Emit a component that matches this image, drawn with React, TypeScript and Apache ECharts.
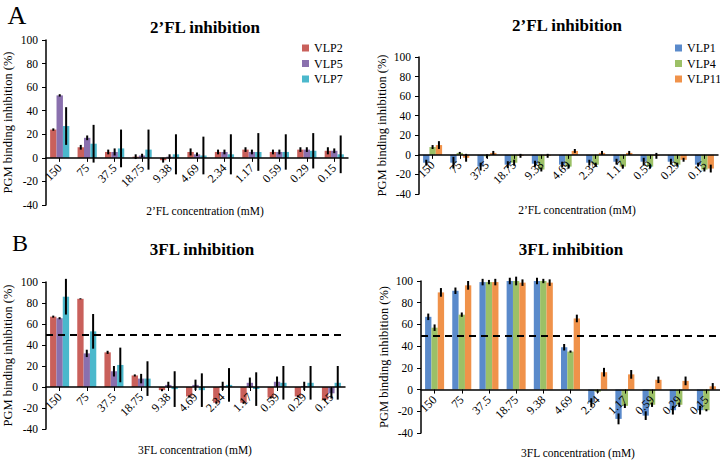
import React, { useEffect, useRef } from 'react';
import * as echarts from 'echarts';

const categories = ['150', '75', '37.5', '18.75', '9.38', '4.69', '2.34', '1.17', '0.59', '0.29', '0.15'];
const yTickMin = -40;
const yTickMax = 100;
const yTickStep = 20;

// Panel A left: 2'FL, VLP2 / VLP5 / VLP7
const a2flVlp2 = [24, 9, 5, 1, -2, 5, 5, 7, 5, 7, 6];
const a2flVlp2Err = [1, 2, 2, 2, 2, 3, 2, 2, 2, 2, 3];
const a2flVlp5 = [53, 17, 5, 2, 1, 3, 5, 5, 5, 7, 6];
const a2flVlp5Err = [1, 2, 3, 1.5, 2, 1.5, 2, 2, 2, 2, 2];
const a2flVlp7 = [27, 12, 8, 7, 3, 2, 3, 5, 5, 6, 3];
const a2flVlp7Err = [16, 16, 16, 17, 17, 16, 17, 16, 15, 15, 16];

// Panel A right: 2'FL, VLP1 / VLP4 / VLP11
const b2flVlp1 = [-8, -8, -12, -10, -9, -10, -8, -7, -7, -7, -10];
const b2flVlp1Err = [3, 6, 4, 3.5, 3, 3, 3, 3, 4, 3, 2];
const b2flVlp4 = [8, 2, -1.5, -8, -15, -12, -10, -12, -12, -10, -15];
const b2flVlp4Err = [2, 1, 2, 3, 2, 2, 2, 2, 2, 2, 2];
const b2flVlp11 = [10, -3, 2, -1, -1, 4, 2, 2, -1, -5, -14];
const b2flVlp11Err = [4, 4, 2, 2, 2, 2, 2, 2, 3, 2, 4];

// Panel B left: 3FL, VLP2 / VLP5 / VLP7
const a3flVlp2 = [67, 84, 33, 11, -3, -9, -15, -15, -10, -9, -12];
const a3flVlp2Err = [1, 0.5, 1.5, 1, 1, 1, 1, 1, 1, 1, 1];
const a3flVlp5 = [65.5, 32, 15, 8, 2, 2, 1, 4, 5, 1, -6];
const a3flVlp5Err = [1, 3.5, 5, 4.5, 3, 5, 4, 5, 5, 4, 5];
const a3flVlp7 = [86, 53, 21, 8, -2, -3, 2, -2, 4, 4, 4];
const a3flVlp7Err = [17, 16.5, 16.5, 16.5, 17, 16, 16, 16, 16, 16, 16];

// Panel B right: 3FL, VLP1 / VLP4 / VLP11
const b3flVlp1 = [67, 91, 99, 100, 100, 39, -12, -27, -24, -19, -19];
const b3flVlp1Err = [3, 3, 3, 3, 3, 3, 4, 5, 4, 4, 4];
const b3flVlp4 = [57, 69, 99, 100, 100, 35, -2, -15, -14, -14, -19];
const b3flVlp4Err = [3, 2, 2, 4, 2, 1, 1, 2, 2, 2, 1];
const b3flVlp11 = [89.5, 96, 99, 98.5, 98.5, 65.5, 16, 14, 9, 8, 3];
const b3flVlp11Err = [4, 4, 3, 3, 3, 3.5, 4, 4, 3, 4, 3];

const leftNames = ['VLP2', 'VLP5', 'VLP7'];
const rightNames = ['VLP1', 'VLP4', 'VLP11'];
const leftColors = ['#C9605B', '#8A70AE', '#4BB8CC'];
const rightColors = ['#5A8ACB', '#9CC066', '#F0924A'];
const threshold = 50;

const FAMILY = 'Liberation Serif';
const CAT_GAP = 0.3;

type Panel = {
  grid: { left: number; top: number; width: number; height: number };
  names: string[];
  colors: string[];
  values: number[][];
  errors: number[][];
  dashed: boolean;
};

const panels: Panel[] = [
  {
    grid: { left: 46, top: 40, width: 302, height: 165 },
    names: leftNames, colors: leftColors,
    values: [a2flVlp2, a2flVlp5, a2flVlp7],
    errors: [a2flVlp2Err, a2flVlp5Err, a2flVlp7Err],
    dashed: false,
  },
  {
    grid: { left: 419, top: 57, width: 299, height: 137 },
    names: rightNames, colors: rightColors,
    values: [b2flVlp1, b2flVlp4, b2flVlp11],
    errors: [b2flVlp1Err, b2flVlp4Err, b2flVlp11Err],
    dashed: false,
  },
  {
    grid: { left: 43, top: 282, width: 302, height: 147 },
    names: leftNames, colors: leftColors,
    values: [a3flVlp2, a3flVlp5, a3flVlp7],
    errors: [a3flVlp2Err, a3flVlp5Err, a3flVlp7Err],
    dashed: true,
  },
  {
    grid: { left: 421, top: 281, width: 299, height: 152 },
    names: rightNames, colors: rightColors,
    values: [b3flVlp1, b3flVlp4, b3flVlp11],
    errors: [b3flVlp1Err, b3flVlp4Err, b3flVlp11Err],
    dashed: true,
  },
];

function text(x: number, y: number, t: string, size: number, bold = false) {
  return {
    type: 'text',
    x,
    y,
    style: {
      text: t,
      fontFamily: FAMILY,
      fontSize: size,
      fontWeight: bold ? 'bold' : 'normal',
      fill: '#000',
      textAlign: 'center',
      textVerticalAlign: 'middle',
      align: 'center',
      verticalAlign: 'middle',
    },
  };
}

export default function App() {
  const ref = useRef<HTMLDivElement>(null);
  useEffect(() => {
    const chart = echarts.init(ref.current!, undefined, { renderer: 'svg' });
    const grids: any[] = [];
    const xAxes: any[] = [];
    const yAxes: any[] = [];
    const series: any[] = [];

    panels.forEach((p, pi) => {
      grids.push({ ...p.grid, containLabel: false });
      // place the category axis on the zero line of the value axis
      const zeroOffset = -(p.grid.height * (0 - yTickMin)) / (yTickMax - yTickMin);
      xAxes.push({
        type: 'category',
        gridIndex: pi,
        data: categories,
        position: 'bottom',
        offset: zeroOffset,
        z: 20,
        axisLine: { onZero: false, lineStyle: { color: '#000', width: 1.5 } },
        axisTick: { show: true, alignWithLabel: true, length: 4, lineStyle: { color: '#000' } },
        axisLabel: { rotate: 45, interval: 0, fontSize: 12, color: '#000', margin: 8, fontFamily: FAMILY },
        splitLine: { show: false },
      });
      yAxes.push({
        type: 'value',
        gridIndex: pi,
        min: yTickMin,
        max: yTickMax,
        interval: yTickStep,
        z: 20,
        name: 'PGM binding inhibition (%)',
        nameLocation: 'middle',
        nameGap: pi % 2 === 0 ? 32 : 31,
        nameTextStyle: { fontSize: 12.5, color: '#000', fontFamily: FAMILY },
        axisLine: { show: true, lineStyle: { color: '#000', width: 1.5 } },
        axisTick: { show: true, length: 4, lineStyle: { color: '#000' } },
        axisLabel: { fontSize: 11.5, color: '#000', margin: 8, fontFamily: FAMILY },
        splitLine: { show: false },
      });
      p.names.forEach((name, si) => {
        const bar: any = {
          type: 'bar',
          name,
          xAxisIndex: pi,
          yAxisIndex: pi,
          data: p.values[si],
          barGap: '0%',
          barCategoryGap: CAT_GAP * 100 + '%',
          itemStyle: { color: p.colors[si] },
          z: 2,
        };
        if (p.dashed && si === 0) {
          bar.markLine = {
            silent: true,
            symbol: 'none',
            label: { show: false },
            lineStyle: { type: [7, 5], color: '#000', width: 1.8 },
            data: [{ yAxis: threshold }],
          };
        }
        series.push(bar);
        series.push({
          type: 'custom',
          name: name + ' error',
          xAxisIndex: pi,
          yAxisIndex: pi,
          z: 10,
          encode: { x: 0, y: 1 },
          data: p.values[si].map((v, i) => [i, v, p.errors[si][i]]),
          renderItem: (params: any, api: any) => {
            const c = api.value(0);
            const v = api.value(1);
            const e = api.value(2);
            const top = api.coord([c, v + e]);
            const bot = api.coord([c, v - e]);
            const band = api.size([1, 0])[0];
            const bw = (band * (1 - CAT_GAP)) / 3;
            const x = top[0] + (si - 1) * bw;
            return {
              type: 'line',
              shape: { x1: x, y1: top[1], x2: x, y2: bot[1] },
              style: { stroke: '#000', lineWidth: 2 },
            };
          },
        });
      });
    });

    const legendBase = {
      orient: 'vertical',
      top: 37,
      icon: 'rect',
      itemWidth: 7,
      itemHeight: 7,
      itemGap: 3.5,
      textStyle: { fontSize: 12, color: '#000', fontFamily: FAMILY },
    };

    const option: any = {
      animation: false,
      backgroundColor: '#fff',
      textStyle: { fontFamily: FAMILY },
      grid: grids,
      xAxis: xAxes,
      yAxis: yAxes,
      legend: [
        { ...legendBase, data: leftNames, left: 297 },
        { ...legendBase, data: rightNames, left: 670 },
      ],
      graphic: [
        text(17, 15, 'A', 26),
        text(205, 27, '2’FL inhibition', 17, true),
        text(567, 25, '2’FL inhibition', 17, true),
        text(205, 211, '2’FL concentration (mM)', 11.5),
        text(577, 210, '2’FL concentration (mM)', 11.5),
        text(20, 243, 'B', 24),
        text(202, 249, '3FL inhibition', 17, true),
        text(571, 249, '3FL inhibition', 17, true),
        text(195, 450, '3FL concentration (mM)', 11.5),
        text(578, 453, '3FL concentration (mM)', 11.5),
      ],
      series,
    };
    chart.setOption(option);
    return () => chart.dispose();
  }, []);
  return (
    <div
      ref={ref}
      style={{ position: 'fixed', left: 0, top: 0, width: 720, height: 461, background: '#fff' }}
    />
  );
}
